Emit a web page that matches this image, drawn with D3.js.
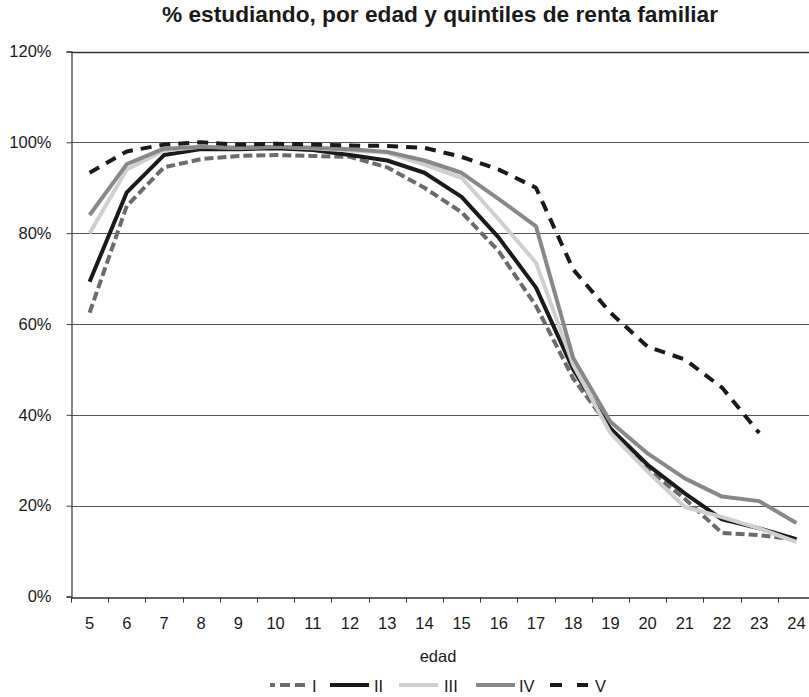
<!DOCTYPE html>
<html>
<head>
<meta charset="utf-8">
<script src="https://cdn.jsdelivr.net/npm/d3@7"></script>
<style>
  body { margin: 0; background: #fff; }
  svg { display: block; }
  text { font-family: "Liberation Sans", Arial, sans-serif; fill: #1a1a1a; }
</style>
</head>
<body>
<svg id="chart" width="809" height="697"></svg>
<script>
const ages = [5,6,7,8,9,10,11,12,13,14,15,16,17,18,19,20,21,22,23,24];
const serieI   = [62.5, 86, 94.5, 96.3, 97, 97.2, 97, 96.8, 94.5, 90, 84.6, 76, 64, 48, 37, 28, 21.5, 14, 13.5, 12.5];
const serieII  = [69.3, 89, 97.2, 98.5, 98.5, 98.7, 98.3, 97.2, 96, 93.3, 88, 79, 68, 50, 37, 29, 22.7, 17, 15, 12.6];
const serieIII = [80, 94, 98.2, 99, 98.8, 99, 98.7, 98.2, 97.7, 95.1, 92.2, 83, 73.5, 51, 36, 27.5, 19.7, 17.5, 15, 12];
const serieIV  = [84, 95.2, 98.6, 99, 98.8, 99, 98.8, 98.5, 97.9, 96, 93.3, 87.5, 81.5, 52.5, 38.5, 31.5, 26, 22, 21, 16.2];
const serieV   = [93.3, 98, 99.5, 100, 99.5, 99.7, 99.5, 99.3, 99.2, 98.8, 96.8, 94, 90, 72, 62.5, 55, 52.2, 46, 36, null];
const seriesNames = ["I","II","III","IV","V"];
const yTicks = [0,20,40,60,80,100,120];

const seriesData = [serieI, serieII, serieIII, serieIV, serieV];
const styles = [
  {color:"#6b6b6b", dash:"9,4"},
  {color:"#1a1a1a", dash:null},
  {color:"#cfcfcf", dash:null},
  {color:"#888888", dash:null},
  {color:"#1a1a1a", dash:"11,8"}
];

const svg = d3.select("#chart");
const mLeft = 71, mRight = 815, mTop = 51.5, mBottom = 596.5;
const fontStack = '"Liberation Sans", Arial, sans-serif';

const x = d3.scaleBand().domain(ages).range([mLeft, mRight]).padding(0);
const y = d3.scaleLinear().domain([0,120]).range([mBottom, mTop]);

// gridlines
svg.append("g").selectAll("line").data(yTicks.filter(d => d > 0)).join("line")
  .attr("x1", mLeft).attr("x2", mRight)
  .attr("y1", d => Math.round(y(d)) + 0.5).attr("y2", d => Math.round(y(d)) + 0.5)
  .attr("stroke", d => d === 120 ? "#333" : "#555").attr("stroke-width", d => d === 120 ? 1.5 : 1);

// y axis
const yAxis = d3.axisLeft(y).tickValues(yTicks).tickFormat(d => d + "%").tickSize(5).tickPadding(15);
const gy = svg.append("g").attr("transform", `translate(${mLeft + 0.5},0)`).call(yAxis);
gy.select(".domain").attr("stroke", "#444").attr("stroke-width", 1.3);
gy.selectAll(".tick line").attr("stroke", "#444");
gy.selectAll(".tick text").style("font-size", "16.5px").style("font-family", fontStack).attr("fill", "#1a1a1a");

// x axis
const xAxis = d3.axisBottom(x).tickSize(0).tickPadding(20);
const gx = svg.append("g").attr("transform", `translate(0,${Math.round(mBottom) + 0.5})`).call(xAxis);
gx.select(".domain").attr("stroke", "#333").attr("stroke-width", 1.3);
gx.selectAll(".tick text").style("font-size", "16.5px").style("font-family", fontStack).attr("fill", "#1a1a1a");
const bounds = ages.map(a => x(a)).concat([mRight]);
gx.append("g").selectAll("line").data(bounds).join("line")
  .attr("x1", d => Math.round(d) + 0.5).attr("x2", d => Math.round(d) + 0.5)
  .attr("y1", 0).attr("y2", 5).attr("stroke", "#333");

// lines
const line = d3.line()
  .defined(d => d.v !== null)
  .x(d => x(d.a) + x.bandwidth() / 2)
  .y(d => y(d.v));

seriesData.forEach((s, i) => {
  const pts = ages.map((a, j) => ({a: a, v: s[j]}));
  svg.append("path").datum(pts)
    .attr("d", line)
    .attr("fill", "none")
    .attr("stroke", styles[i].color)
    .attr("stroke-width", 4)
    .attr("stroke-linejoin", "round")
    .attr("stroke-dasharray", styles[i].dash);
});

// title
svg.append("text").attr("x", 440).attr("y", 22).attr("text-anchor", "middle")
  .style("font-size", "22.5px").style("font-weight", "bold")
  .attr("textLength", 556).attr("lengthAdjust", "spacingAndGlyphs")
  .text("% estudiando, por edad y quintiles de renta familiar");

// axis title
svg.append("text").attr("x", 438).attr("y", 662).attr("text-anchor", "middle")
  .style("font-size", "16.5px").text("edad");

// legend
const legendItems = [
  {x1: 270, x2: 306, tx: 312},
  {x1: 330, x2: 369, tx: 374},
  {x1: 399, x2: 438, tx: 444},
  {x1: 476, x2: 515, tx: 519},
  {x1: 550, x2: 588, tx: 595}
];
const lg = svg.append("g");
legendItems.forEach((it, i) => {
  lg.append("line").attr("x1", it.x1).attr("x2", it.x2).attr("y1", 685).attr("y2", 685)
    .attr("stroke", styles[i].color).attr("stroke-width", 4)
    .attr("stroke-dasharray", i === 4 ? "12,15" : (i === 0 ? "5,5,10,5,10,5" : null));
  lg.append("text").attr("x", it.tx).attr("y", 692).style("font-size", "16.5px").text(seriesNames[i]);
});
</script>
</body>
</html>
